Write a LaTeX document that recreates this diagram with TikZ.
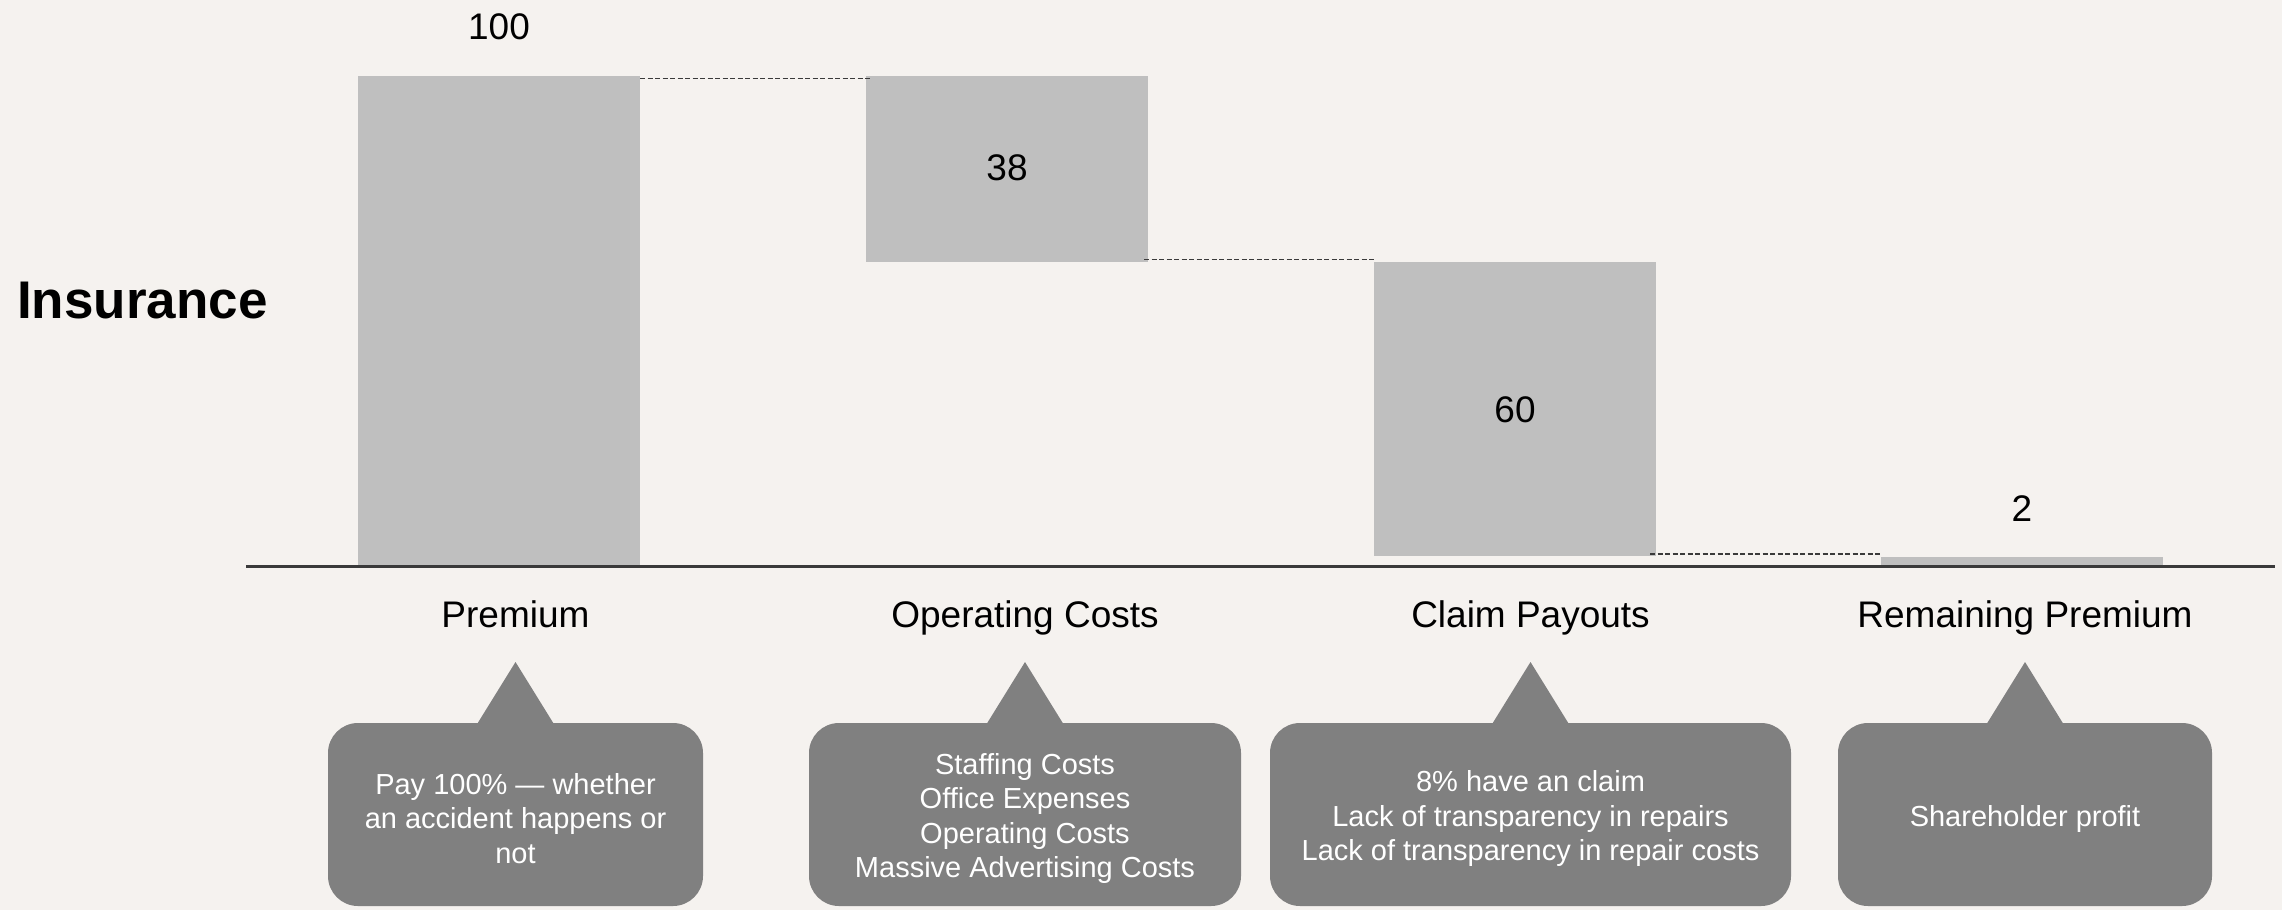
\documentclass[tikz,border=0pt]{standalone}
\usepackage{fontspec}
\setmainfont{Liberation Sans}
\definecolor{bgc}{HTML}{F5F2EF}
\definecolor{barc}{HTML}{BFBFBF}
\definecolor{boxc}{HTML}{808080}
\definecolor{axisc}{HTML}{3A3A3A}
\begin{document}
\begin{tikzpicture}[x=1pt,y=-1pt,
  bar/.style={fill=barc, draw=none, inner sep=0pt, outer sep=0pt, minimum width=282pt, anchor=north west},
  dashline/.style={draw=axisc, line width=1.2pt, dash pattern=on 5pt off 2.5pt},
  numlabel/.style={anchor=base, inner sep=0pt, font=\fontsize{37}{44}\selectfont},
  catlabel/.style={anchor=base, inner sep=0pt, font=\fontsize{37}{44}\selectfont},
  callbox/.style={fill=boxc, draw=none, rounded corners=30pt, minimum height=183pt, inner sep=0pt, outer sep=0pt},
  calltext/.style={inner sep=0pt, text=white, align=center, font=\fontsize{29}{34.5}\selectfont},
  callfill/.style={fill=boxc, draw=none}
]
\fill[bgc] (0,0) rectangle (2282,910);
\useasboundingbox (0,0) rectangle (2282,910);

% title
\node[anchor=base west, inner sep=0pt, font=\fontsize{53}{60}\selectfont\bfseries] (title) at (17,318) {Insurance};

% bars
\node[bar, minimum height=490pt] (b1) at (358,76) {};
\node[bar, minimum height=186pt] (b2) at (866,76) {};
\node[bar, minimum height=294pt] (b3) at (1374,262) {};
\node[bar, minimum height=10pt] (b4) at (1881,557) {};

% dashed connectors
\draw[dashline] ([yshift=-2.5pt]b1.north east) -- ([yshift=-2.5pt,xshift=6pt]b2.north west);
\draw[dashline] ([yshift=2.5pt,xshift=-4pt]b2.south east) -- ([yshift=2.5pt]b2.south east -| b3.west);
\draw[dashline] ([yshift=2pt,xshift=-6pt]b3.south east) -- ([yshift=2pt]b3.south east -| b4.west);

% axis
\coordinate (axl) at (246,566.5);
\coordinate (axr) at (2275,566.5);
\draw[axisc, line width=2.5pt] (axl) -- (axr);

% value labels
\node[numlabel] (v1) at (499,39) {100};
\node[numlabel] (v2) at (1007,180) {38};
\node[numlabel] (v3) at (1515,422) {60};
\node[numlabel] (v4) at (2022,521) {2};

% category labels
\node[catlabel] (l1) at (515.5,627) {Premium};
\node[catlabel] (l2) at (1025,627) {Operating Costs};
\node[catlabel] (l3) at (1530.5,627) {Claim Payouts};
\node[catlabel] (l4) at (2025,627) {Remaining Premium};

% callout boxes
\node[callbox, minimum width=375pt] (c1) at (515.5,814.5) {};
\node[callbox, minimum width=432pt] (c2) at (1025,814.5) {};
\node[callbox, minimum width=521pt] (c3) at (1530.5,814.5) {};
\node[callbox, minimum width=374pt] (c4) at (2025,814.5) {};

% callout pointers
\foreach \c in {c1,c2,c3,c4}{
  \fill[callfill] ([yshift=61pt]\c.north) -- ([xshift=-39pt,yshift=-2pt]\c.north) -- ([xshift=39pt,yshift=-2pt]\c.north) -- cycle;
}

% callout texts
\node[calltext] (t1) at ([yshift=-4pt]c1.center) {Pay 100\% — whether\\an accident happens or\\not};
\node[calltext] (t2) at ([yshift=-4pt]c2.center) {Staffing Costs\\Office Expenses\\Operating Costs\\Massive Advertising Costs};
\node[calltext] (t3) at ([yshift=-4pt]c3.center) {8\% have an claim\\Lack of transparency in repairs\\Lack of transparency in repair costs};
\node[calltext] (t4) at ([yshift=-4pt]c4.center) {Shareholder profit};
\end{tikzpicture}
\end{document}
